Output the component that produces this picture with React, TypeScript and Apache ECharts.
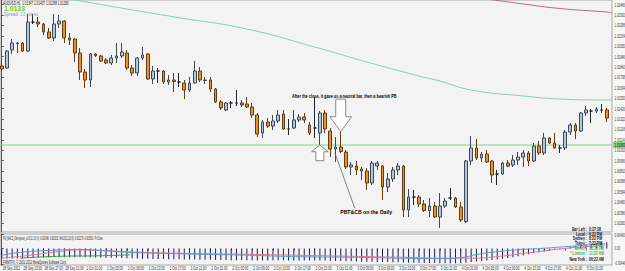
import React, { useEffect, useRef } from "react";
import * as echarts from "echarts";

// ---------- DATA ----------
const opens = [
  1.01853, 1.01833, 1.02013, 1.02078, 1.02083, 1.02003, 1.02293, 1.02293, 1.02273, 1.02193,
  1.02133, 1.02273, 1.02303, 1.02133, 1.02123, 1.01983, 1.01793, 1.01713, 1.01973, 1.01953,
  1.01913, 1.01883, 1.01933, 1.01953, 1.01983, 1.01833, 1.01783, 1.01933, 1.01973, 1.01723,
  1.01803, 1.01803, 1.01693, 1.01713, 1.01693, 1.01683, 1.01613, 1.01683, 1.01803, 1.01708,
  1.01713, 1.01623, 1.01493, 1.01413, 1.01483, 1.01483, 1.01483, 1.01473, 1.01443, 1.01363,
  1.01183, 1.01293, 1.01253, 1.01303, 1.01373, 1.01223, 1.01233, 1.01313, 1.01343, 1.01263,
  1.01233, 1.01183, 1.01383, 1.01203, 1.01023, 1.01043, 1.00993, 1.00843, 1.00853, 1.00823,
  1.00803, 1.00683, 1.00853, 1.00853, 1.00643, 1.00723, 1.00813, 1.00853, 1.00413, 1.00543,
  1.00543, 1.00473, 1.00408, 1.00453, 1.00343, 1.00453, 1.00533, 1.00533, 1.00443, 1.00298,
  1.00903, 1.01033, 1.00933, 1.00973, 1.00903, 1.00773, 1.00773, 1.00883, 1.00863, 1.00913,
  1.00943, 1.00983, 1.00903, 1.01053, 1.00983, 1.01133, 1.01083, 1.01033, 1.01033, 1.01193,
  1.01263, 1.01203, 1.01383, 1.01403, 1.01403, 1.01413, 1.01413,
];
const closes = [
  1.01823, 1.02003, 1.02083, 1.02083, 1.02003, 1.02293, 1.02293, 1.02273, 1.02193, 1.02133,
  1.02273, 1.02303, 1.02133, 1.02113, 1.01983, 1.01793, 1.01713, 1.01973, 1.01958, 1.01903,
  1.01883, 1.01933, 1.01953, 1.01993, 1.01833, 1.01783, 1.01933, 1.01963, 1.01723, 1.01803,
  1.01803, 1.01693, 1.01713, 1.01698, 1.01693, 1.01613, 1.01683, 1.01803, 1.01713, 1.01713,
  1.01623, 1.01493, 1.01433, 1.01483, 1.01483, 1.01483, 1.01463, 1.01443, 1.01363, 1.01173,
  1.01293, 1.01253, 1.01303, 1.01363, 1.01223, 1.01223, 1.01313, 1.01343, 1.01313, 1.01183,
  1.01233, 1.01383, 1.01223, 1.01023, 1.01043, 1.00998, 1.00843, 1.00863, 1.00813, 1.00803,
  1.00683, 1.00883, 1.00883, 1.00643, 1.00723, 1.00813, 1.00853, 1.00413, 1.00543, 1.00543,
  1.00473, 1.00408, 1.00453, 1.00343, 1.00453, 1.00503, 1.00533, 1.00443, 1.00313, 1.00903,
  1.01033, 1.00933, 1.00973, 1.00893, 1.00763, 1.00773, 1.00883, 1.00853, 1.00913, 1.00943,
  1.00983, 1.00903, 1.01053, 1.00983, 1.01133, 1.01083, 1.01033, 1.01033, 1.01193, 1.01263,
  1.01203, 1.01383, 1.01413, 1.01403, 1.01423, 1.01413, 1.01333,
];
const lows = [
  1.01803, 1.01823, 1.01973, 1.01983, 1.01993, 1.01993, 1.02273, 1.02243, 1.02163, 1.02123,
  1.02103, 1.02233, 1.02083, 1.02063, 1.01893, 1.01713, 1.01633, 1.01643, 1.01943, 1.01893,
  1.01873, 1.01863, 1.01883, 1.01933, 1.01813, 1.01753, 1.01753, 1.01913, 1.01713, 1.01673,
  1.01683, 1.01673, 1.01663, 1.01593, 1.01643, 1.01523, 1.01593, 1.01678, 1.01693, 1.01673,
  1.01593, 1.01483, 1.01413, 1.01403, 1.01433, 1.01453, 1.01443, 1.01433, 1.01333, 1.01143,
  1.01133, 1.01233, 1.01213, 1.01283, 1.01213, 1.01163, 1.01223, 1.01293, 1.01283, 1.01163,
  1.01133, 1.01063, 1.01183, 1.00943, 1.00893, 1.00983, 1.00823, 1.00763, 1.00763, 1.00713,
  1.00613, 1.00663, 1.00813, 1.00513, 1.00593, 1.00693, 1.00763, 1.00343, 1.00343, 1.00463,
  1.00443, 1.00393, 1.00343, 1.00333, 1.00233, 1.00433, 1.00513, 1.00433, 1.00293, 1.00283,
  1.00863, 1.00913, 1.00893, 1.00883, 1.00683, 1.00663, 1.00763, 1.00843, 1.00843, 1.00863,
  1.00843, 1.00853, 1.00893, 1.00963, 1.00963, 1.01073, 1.01028, 1.00983, 1.01013, 1.01163,
  1.01123, 1.01193, 1.01353, 1.01283, 1.01383, 1.01383, 1.01293,
];
const highs = [
  1.01913, 1.02013, 1.02123, 1.02093, 1.02093, 1.02373, 1.02373, 1.02343, 1.02283, 1.02233,
  1.02373, 1.02363, 1.02313, 1.02183, 1.02133, 1.02033, 1.01823, 1.01983, 1.01983, 1.01963,
  1.01933, 1.01963, 1.02083, 1.02083, 1.02013, 1.01863, 1.01943, 1.02043, 1.01983, 1.01853,
  1.01833, 1.01813, 1.01763, 1.01783, 1.01783, 1.01713, 1.01743, 1.01903, 1.01843, 1.01743,
  1.01743, 1.01633, 1.01513, 1.01493, 1.01503, 1.01613, 1.01513, 1.01543, 1.01483, 1.01383,
  1.01313, 1.01333, 1.01363, 1.01413, 1.01413, 1.01323, 1.01413, 1.01373, 1.01383, 1.01293,
  1.01543, 1.01403, 1.01413, 1.01233, 1.01143, 1.01193, 1.01013, 1.00893, 1.00903, 1.00843,
  1.00833, 1.00903, 1.00903, 1.00863, 1.00783, 1.00843, 1.00883, 1.00863, 1.00623, 1.00613,
  1.00563, 1.00513, 1.00533, 1.00493, 1.00583, 1.00533, 1.00633, 1.00543, 1.00493, 1.00913,
  1.01153, 1.01123, 1.00993, 1.01013, 1.00913, 1.00813, 1.00893, 1.00913, 1.00963, 1.00993,
  1.01013, 1.01003, 1.01083, 1.01103, 1.01183, 1.01143, 1.01183, 1.01063, 1.01213, 1.01283,
  1.01283, 1.01393, 1.01453, 1.01423, 1.01443, 1.01473, 1.01433,
];

const timeLabelBars = [0, 4, 8, 12, 16, 20, 24, 28, 32, 36, 40, 44, 48, 52, 56, 60, 64, 68, 72, 76, 80, 84, 88, 92, 96, 100, 104, 108, 112];
const timeLabels = [
  "28 Sep 2012", "28 Sep 13:00", "28 Sep 17:00", "28 Sep 21:00",
  "1 Oct 01:00", "1 Oct 05:00", "1 Oct 09:00", "1 Oct 13:00", "1 Oct 17:00", "1 Oct 21:00",
  "2 Oct 01:00", "2 Oct 05:00", "2 Oct 09:00", "2 Oct 13:00", "2 Oct 17:00", "2 Oct 21:00",
  "3 Oct 01:00", "3 Oct 05:00", "3 Oct 09:00", "3 Oct 13:00", "3 Oct 17:00", "3 Oct 21:00",
  "4 Oct 01:00", "4 Oct 05:00", "4 Oct 09:00", "4 Oct 13:00", "4 Oct 17:00", "4 Oct 21:00",
  "5 Oct 01:00",
];

const priceTicks = [
  1.02466, 1.02362, 1.02258, 1.02154, 1.0205, 1.01946, 1.01842, 1.01738, 1.01634, 1.0153, 1.01426,
  1.01322, 1.01218, 1.01114, 1.0101, 1.00906, 1.00802, 1.00698, 1.00594, 1.0049, 1.00386, 1.00282,
];
const hlinePrice = 1.01063;

const tealMA = [
  [10, 1.02543], [14, 1.02513], [24, 1.02423], [34, 1.02336], [47, 1.02223], [60, 1.02043],
  [70, 1.01893], [80, 1.01753], [84, 1.01703], [90, 1.01613], [100, 1.01553], [107, 1.01523],
  [116, 1.01513], [117, 1.01513],
];
const maroonMA = [[93, 1.02523], [100, 1.02473], [107, 1.02428], [116, 1.02393], [117, 1.02386]];

const macdHist = [
  -0.0028, -0.00283, -0.00278, -0.00275, -0.0027, -0.00262,
  -0.00255, -0.0025, -0.00244, -0.0024, -0.00236, -0.00238, -0.0024, -0.00243, -0.0024, -0.00236, -0.00238, -0.00242, -0.00246,
  -0.0025, -0.00252, -0.00255, -0.00258, -0.00262, -0.00266, -0.0027,
  -0.00275, -0.0028, -0.00284, -0.00287, -0.0029, -0.00292, -0.00294, -0.00296, -0.00298, -0.003, -0.00302, -0.00305, -0.00308,
  -0.0031, -0.00312, -0.00315, -0.00318, -0.0032, -0.00322, -0.00321, -0.0032, -0.00322, -0.00325, -0.00328, -0.0033, -0.00328,
  -0.00326, -0.00325, -0.00326, -0.00328, -0.0033, -0.00332,
  -0.00333, -0.00334, -0.00333, -0.00332, -0.00334, -0.00338, -0.00342,
  -0.00346, -0.0035, -0.00354, -0.00358, -0.00362, -0.00366, -0.00368, -0.0037, -0.00372, -0.00375, -0.00378, -0.0038,
  -0.00385, -0.0039, -0.00393, -0.00396, -0.00398, -0.004, -0.00402, -0.00404, -0.00405, -0.00406, -0.00408, -0.0041,
  -0.0039, -0.00372, -0.0036, -0.00345, -0.0033, -0.00318, -0.003, -0.00282, -0.00265, -0.0024, -0.00215, -0.0019,
  -0.0016, -0.0013, -0.00105, -0.0008, -0.0006, -0.0004, -0.0002, 0.0001,
  0.0004, 0.00065, 0.0009, 0.0011, 0.0013, 0.00145, 0.0016, 0.0017,
];
const macdBlue = [
  [0, -0.00187], [3.5, -0.00107], [11.2, -0.0004], [15, -0.00027], [18.8, -0.00053], [24.6, -0.00107],
  [30.4, -0.00134], [38, -0.0016], [47.6, -0.00187], [57.2, -0.00227], [66.8, -0.0024], [76.4, -0.00267],
  [84, -0.0028], [87.9, -0.00254], [91.7, -0.00147], [95.5, -0.0008], [99.4, -0.00027], [103.2, 0],
  [107, 0.0004], [110.9, 0.0008], [115.7, 0.00134],
];
const macdPink = [
  [0, -0.00267], [5.4, -0.00187], [11.2, -0.0008], [15, -0.0004], [18.8, -0.00053], [24.6, -0.00093],
  [30.4, -0.0012], [47.6, -0.0016], [57.2, -0.00187], [66.8, -0.00214], [76.4, -0.0024], [86, -0.00267],
  [90, -0.00267], [95.5, -0.00214], [99.4, -0.00147], [103.2, -0.0008], [107, -0.00013], [110.9, 0.0004],
  [115.7, 0.00093],
];
const macdGreen = [[3.5, -0.00267], [11.2, -0.00214], [18.8, -0.002], [24.6, -0.00174]];
const indicatorTicks = [0.004, 0, -0.0044];

const sessionRows = [
  ["Bar Left :", "0:37:38", "#111111"],
  ["Local :", "6:22 PM", "#111111"],
  ["Sydney :", "8:22 PM", "#111111"],
  ["Tokyo :", "7:22 PM", "#111111"],
  ["* Berlin :", "12:22 PM", "#4caf50"],
  ["* London :", "11:22 AM", "#4caf50"],
  ["New York :", "06:22 AM", "#111111"],
];

// ---------- STYLE ----------
const FONT = '"Liberation Sans", Arial, sans-serif';
const X_MIN = -0.33;
const X_MAX = 117;
const HLINE_COLOR = "#86d686";

function measure(text: string, size: number, bold: boolean) {
  const c = document.createElement("canvas").getContext("2d");
  if (!c) return text.length * size * 0.55;
  c.font = `${bold ? "bold " : ""}${size}px "Liberation Sans", Arial, sans-serif`;
  return c.measureText(text).width || text.length * size * 0.55;
}

function scaledText(text: string, x: number, y: number, scale: number, size: number, color: string, bold = false, align = "left", z = 100) {
  return {
    type: "text",
    x,
    y,
    scaleX: scale,
    silent: true,
    z,
    style: {
      text,
      fill: color,
      fontSize: size,
      fontFamily: FONT,
      fontWeight: bold ? "bold" : "normal",
      align,
      verticalAlign: "middle",
    },
  };
}

function fitText(text: string, x: number, y: number, width: number, size: number, color: string, bold = false, align = "left") {
  return scaledText(text, x, y, width / measure(text, size, bold), size, color, bold, align);
}

export default function App() {
  const ref = useRef<HTMLDivElement>(null);

  useEffect(() => {
    const el = ref.current;
    if (!el) return;
    const chart = echarts.init(el, null, { renderer: "svg", width: 625, height: 271 });

    const candleData = opens.map((o, i) => [i, o, closes[i], lows[i], highs[i]]);
    const histData = macdHist.map((v, i) => [i, v]);

    const option: any = {
      animation: false,
      backgroundColor: "#f7f7f7",
      grid: [
        {
          left: 0, top: 0, width: 612, height: 232,
          show: true, backgroundColor: "#f3f3f3", borderColor: "#a8a8a8", borderWidth: 1,
          containLabel: false, outerBoundsMode: "none",
        },
        {
          left: 0, top: 234, width: 612, height: 31,
          show: true, backgroundColor: "#f3f3f3", borderColor: "#a8a8a8", borderWidth: 1,
          containLabel: false, outerBoundsMode: "none",
        },
      ],
      xAxis: [
        { type: "value", gridIndex: 0, min: X_MIN, max: X_MAX, show: false },
        {
          type: "value", gridIndex: 1, min: X_MIN, max: X_MAX,
          axisLine: { show: false },
          splitLine: { show: false },
          axisTick: { show: true, length: 2, customValues: timeLabelBars, lineStyle: { color: "#555", width: 1 } },
          axisLabel: { show: false, customValues: timeLabelBars },
        },
      ],
      yAxis: [
        {
          type: "value", gridIndex: 0, position: "right", min: 1.00193, max: 1.02513,
          axisLine: { show: true, lineStyle: { color: "#555", width: 1 } },
          splitLine: { show: false },
          axisTick: { show: true, length: 2, inside: false, customValues: priceTicks, lineStyle: { color: "#555" } },
          axisLabel: { show: false, customValues: priceTicks },
        },
        {
          type: "value", gridIndex: 1, position: "right", min: -0.00455, max: 0.004,
          axisLine: { show: true, lineStyle: { color: "#555", width: 1 } },
          splitLine: { show: false },
          axisTick: { show: true, length: 2, customValues: indicatorTicks, lineStyle: { color: "#555" } },
          axisLabel: { show: false, customValues: indicatorTicks },
        },
      ],
      series: [
        {
          type: "line", xAxisIndex: 0, yAxisIndex: 0,
          data: [[X_MIN, hlinePrice], [X_MAX, hlinePrice]],
          showSymbol: false, silent: true, z: 1,
          lineStyle: { color: HLINE_COLOR, width: 1, type: "solid" },
        },
        {
          type: "candlestick",
          xAxisIndex: 0,
          yAxisIndex: 0,
          data: candleData,
          encode: { x: 0, y: [1, 2, 3, 4] },
          barWidth: 3.2,
          silent: true,
          z: 3,
          itemStyle: {
            color: "#b3c5dc",
            color0: "#ec9128",
            borderColor: "#3e4856",
            borderColor0: "#5e3e14",
            borderColorDoji: "#1e2430",
            borderWidth: 1,
          },
        },
        {
          type: "line", xAxisIndex: 0, yAxisIndex: 0, data: tealMA, smooth: true, showSymbol: false,
          silent: true, clip: true, lineStyle: { color: "#8fcab3", width: 1 },
        },
        {
          type: "line", xAxisIndex: 0, yAxisIndex: 0, data: maroonMA, smooth: true, showSymbol: false,
          silent: true, clip: true, lineStyle: { color: "#b86a7a", width: 1 },
        },
        {
          type: "bar", xAxisIndex: 1, yAxisIndex: 1, data: histData, barWidth: 1, silent: true,
          itemStyle: { color: "#1b1b55" },
        },
        {
          type: "line", xAxisIndex: 1, yAxisIndex: 1, data: macdPink, smooth: true, showSymbol: false,
          silent: true, lineStyle: { color: "#e0788a", width: 1 },
        },
        {
          type: "line", xAxisIndex: 1, yAxisIndex: 1, data: macdBlue, smooth: true, showSymbol: false,
          silent: true, lineStyle: { color: "#5b9bd8", width: 1 },
        },
        {
          type: "line", xAxisIndex: 1, yAxisIndex: 1, data: macdGreen, smooth: true, showSymbol: false,
          silent: true, lineStyle: { color: "#3c9a3c", width: 1 },
        },
      ],
    };

    chart.setOption(option);

    // annotation anchors in data space (bar index, price)
    const px = (i: number, p: number) => chart.convertToPixel({ gridIndex: 0 }, [i, p]) as number[];
    const down = px(65, 1.01196);
    const up = px(61, 1.01063);
    const lineA = px(63.9, 1.0098);
    const lineB = px(67.7, 1.0043);
    const t1 = px(55.65, 1.01553);
    const t2 = px(64.9, 1.00393);

    const arrowStyle = { fill: "#ffffff", stroke: "#8a8a8a", lineWidth: 1 };
    const downPts = [[0, 0], [-10.8, -15], [-5, -15], [-5, -32.5], [5, -32.5], [5, -15], [10.8, -15]].map(
      ([dx, dy]) => [down[0] + dx, down[1] + dy]
    );
    const upPts = [[0, 0], [8.3, 6.7], [4, 6.7], [4, 15.7], [-4, 15.7], [-4, 6.7], [-8.3, 6.7]].map(
      ([dx, dy]) => [up[0] + dx, up[1] + dy]
    );

    const graphics: any[] = [
      fitText("AUDUSD,H1  1.01347 1.01407 1.01288 1.01330", 3, 3.8, 66, 4.5, "#222"),
      fitText("1.0133", 4, 8.6, 21, 7, "#77c92a", true),
      fitText("Spread: 13 points", 4, 14.2, 34, 5, "#7c9ec6"),
      { type: "polygon", shape: { points: downPts }, style: arrowStyle, z: 90, silent: true },
      { type: "polygon", shape: { points: upPts }, style: arrowStyle, z: 90, silent: true },
      {
        type: "line", silent: true, z: 90,
        shape: { x1: lineA[0], y1: lineA[1], x2: lineB[0], y2: lineB[1] },
        style: { stroke: "#666", lineWidth: 0.8 },
      },
      fitText("After the close, it gave us a neutral bar, then a bearish PB", t1[0], t1[1], 105, 6, "#000", true),
      fitText("PBT&CB on the Daily", t2[0], t2[1], 52, 6, "#000", true),
      fitText(
        "FW_MACD_Divergence_v1.0(12, 26, 9) -0.002496 -0.002032  MACD(12,26,9) -0.002179 -0.002500  Prt Close",
        3, 238.4, 100, 4.5, "#222"
      ),
      fitText("FWMTFX, \u00a9 2001-2012 MetaQuotes Software Corp.", 3, 262.3, 64, 4.5, "#222"),
    ];

    // tick labels placed through the axes' own scales
    const LBL = 4.8;
    const timeScale = 18.5 / measure("28 Sep 13:00", LBL, false);
    timeLabelBars.forEach((bar, k) => {
      const x = chart.convertToPixel({ xAxisIndex: 1 }, bar) as number;
      graphics.push(scaledText(timeLabels[k], x + 1, 268.3, timeScale, LBL, "#333"));
    });
    const priceScale = 10.5 / measure("1.02466", LBL, false);
    priceTicks.forEach((p) => {
      const y = chart.convertToPixel({ yAxisIndex: 0 }, p) as number;
      graphics.push(scaledText(p.toFixed(5), 614.5, y, priceScale, LBL, "#333"));
    });
    const hy = chart.convertToPixel({ yAxisIndex: 0 }, hlinePrice) as number;
    graphics.push({
      type: "rect", silent: true, z: 99,
      shape: { x: 613, y: hy - 3, width: 12, height: 6 },
      style: { fill: HLINE_COLOR },
    });
    graphics.push(scaledText(hlinePrice.toFixed(5), 614.5, hy, priceScale, LBL, "#000", false, "left", 101));
    indicatorTicks.forEach((v) => {
      const y = chart.convertToPixel({ yAxisIndex: 1 }, v) as number;
      const txt = v === 0 ? "0.00" : v.toFixed(5);
      graphics.push(scaledText(txt, 614.5, Math.max(235, Math.min(263.5, y)), priceScale, LBL, "#333"));
    });

    const rowY = [229, 234, 238.6, 243.4, 248.4, 253.4, 258.8];
    sessionRows.forEach(([label, value, color], k) => {
      graphics.push(scaledText(label, 587, rowY[k], 0.64, 5.4, color, true, "right"));
      graphics.push(scaledText(value, 589, rowY[k], 0.64, 5.4, color, true, "left"));
    });

    chart.setOption({ graphic: graphics });

    return () => chart.dispose();
  }, []);

  return (
    <div
      ref={ref}
      style={{ position: "fixed", left: 0, top: 0, width: 625, height: 271, background: "#f7f7f7" }}
    />
  );
}
